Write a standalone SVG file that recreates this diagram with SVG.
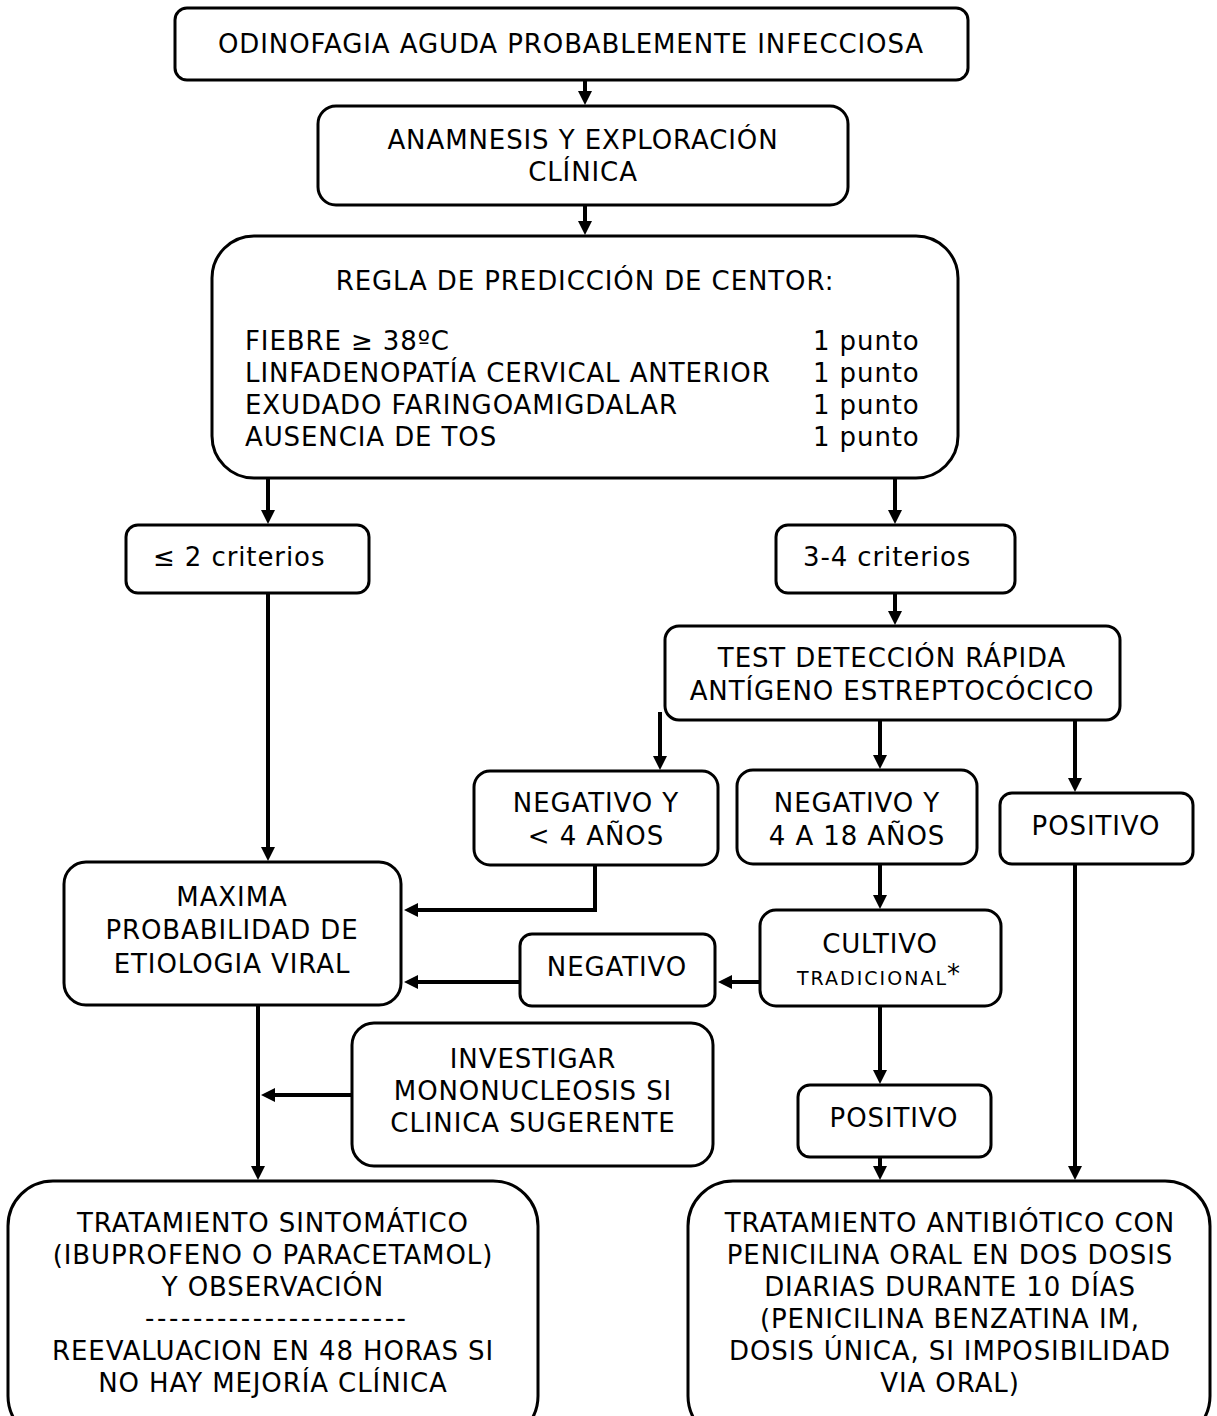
<svg xmlns="http://www.w3.org/2000/svg" width="1217" height="1416" viewBox="0 0 1217 1416">
<defs>
<style>
.box{fill:#fff;stroke:#000;stroke-width:3}
.t{font-family:"DejaVu Sans","Verdana",sans-serif;font-size:26px;letter-spacing:0.9px;fill:#000}
.c{text-anchor:middle}
.con{fill:none;stroke:#000;stroke-width:4}
</style>
<marker id="ah" markerUnits="userSpaceOnUse" markerWidth="16" markerHeight="16" refX="1" refY="7" orient="auto">
<path d="M0,0 L14,7 L0,14 z" fill="#000"/>
</marker>
</defs>
<rect width="1217" height="1416" fill="#fff"/>
<g id="connectors">
<path class="con" d="M585,80 V92" marker-end="url(#ah)"/>
<path class="con" d="M585,205 V222" marker-end="url(#ah)"/>
<path class="con" d="M268,478 V511" marker-end="url(#ah)"/>
<path class="con" d="M895,478 V511" marker-end="url(#ah)"/>
<path class="con" d="M895,593 V612" marker-end="url(#ah)"/>
<path class="con" d="M660,712 V757" marker-end="url(#ah)"/>
<path class="con" d="M880,720 V756" marker-end="url(#ah)"/>
<path class="con" d="M1075,720 V779" marker-end="url(#ah)"/>
<path class="con" d="M268,593 V848" marker-end="url(#ah)"/>
<path class="con" d="M595,865 V910 H417" marker-end="url(#ah)"/>
<path class="con" d="M880,864 V896" marker-end="url(#ah)"/>
<path class="con" d="M760,982 H731" marker-end="url(#ah)"/>
<path class="con" d="M520,982 H417" marker-end="url(#ah)"/>
<path class="con" d="M880,1006 V1071" marker-end="url(#ah)"/>
<path class="con" d="M880,1157 V1167" marker-end="url(#ah)"/>
<path class="con" d="M1075,864 V1167" marker-end="url(#ah)"/>
<path class="con" d="M258,1005 V1167" marker-end="url(#ah)"/>
<path class="con" d="M352,1095 H274" marker-end="url(#ah)"/>
</g>
<g id="n1">
<rect class="box" x="175" y="8" width="793" height="72" rx="12"/>
<text class="t c" x="571" y="53">ODINOFAGIA AGUDA PROBABLEMENTE INFECCIOSA</text>
</g>
<g id="n2">
<rect class="box" x="318" y="106" width="530" height="99" rx="18"/>
<text class="t c" x="583" y="149">ANAMNESIS Y EXPLORACIÓN</text>
<text class="t c" x="583" y="181">CLÍNICA</text>
</g>
<g id="n3">
<rect class="box" x="212" y="236" width="746" height="242" rx="42"/>
<text class="t c" x="585" y="290">REGLA DE PREDICCIÓN DE CENTOR:</text>
<text class="t" x="245" y="350">FIEBRE ≥ 38ºC</text>
<text class="t" x="245" y="382">LINFADENOPATÍA CERVICAL ANTERIOR</text>
<text class="t" x="245" y="414">EXUDADO FARINGOAMIGDALAR</text>
<text class="t" x="245" y="446">AUSENCIA DE TOS</text>
<text class="t" x="813" y="350">1 punto</text>
<text class="t" x="813" y="382">1 punto</text>
<text class="t" x="813" y="414">1 punto</text>
<text class="t" x="813" y="446">1 punto</text>
</g>
<g id="n4">
<rect class="box" x="126" y="525" width="243" height="68" rx="12"/>
<text class="t" x="153" y="566">≤ 2 criterios</text>
</g>
<g id="n5">
<rect class="box" x="776" y="525" width="239" height="68" rx="12"/>
<text class="t" x="803" y="566">3-4 criterios</text>
</g>
<g id="n6">
<rect class="box" x="665" y="626" width="455" height="94" rx="14"/>
<text class="t c" x="892" y="667">TEST DETECCIÓN RÁPIDA</text>
<text class="t c" x="892" y="700">ANTÍGENO ESTREPTOCÓCICO</text>
</g>
<g id="n7">
<rect class="box" x="474" y="771" width="244" height="94" rx="16"/>
<text class="t c" x="596" y="812">NEGATIVO Y</text>
<text class="t c" x="596" y="845">&lt; 4 AÑOS</text>
</g>
<g id="n8">
<rect class="box" x="737" y="770" width="240" height="94" rx="16"/>
<text class="t c" x="857" y="812">NEGATIVO Y</text>
<text class="t c" x="857" y="845">4 A 18 AÑOS</text>
</g>
<g id="n9">
<rect class="box" x="1000" y="793" width="193" height="71" rx="12"/>
<text class="t c" x="1096" y="835">POSITIVO</text>
</g>
<g id="n10">
<rect class="box" x="64" y="862" width="337" height="143" rx="22"/>
<text class="t c" x="232" y="906">MAXIMA</text>
<text class="t c" x="232" y="939">PROBABILIDAD DE</text>
<text class="t c" x="232" y="973">ETIOLOGIA VIRAL</text>
</g>
<g id="n11">
<rect class="box" x="760" y="910" width="241" height="96" rx="16"/>
<text class="t c" x="880" y="953">CULTIVO</text>
<text class="t" x="797" y="985" style="font-size:19px;letter-spacing:0" textLength="149">TRADICIONAL</text>
<text class="t" x="947" y="983" style="font-size:26px;letter-spacing:0">*</text>
</g>
<g id="n12">
<rect class="box" x="520" y="934" width="195" height="72" rx="12"/>
<text class="t c" x="617" y="976">NEGATIVO</text>
</g>
<g id="n13">
<rect class="box" x="352" y="1023" width="361" height="143" rx="22"/>
<text class="t c" x="533" y="1068">INVESTIGAR</text>
<text class="t c" x="533" y="1100">MONONUCLEOSIS SI</text>
<text class="t c" x="533" y="1132">CLINICA SUGERENTE</text>
</g>
<g id="n14">
<rect class="box" x="798" y="1085" width="193" height="72" rx="12"/>
<text class="t c" x="894" y="1127">POSITIVO</text>
</g>
<g id="n15">
<rect class="box" x="8" y="1181" width="530" height="260" rx="45"/>
<text class="t c" x="273" y="1232">TRATAMIENTO SINTOMÁTICO</text>
<text class="t c" x="273" y="1264">(IBUPROFENO O PARACETAMOL)</text>
<text class="t c" x="273" y="1296">Y OBSERVACIÓN</text>
<text class="t" x="145" y="1327" style="letter-spacing:0" textLength="261">----------------------</text>
<text class="t c" x="273" y="1360">REEVALUACION EN 48 HORAS SI</text>
<text class="t c" x="273" y="1392">NO HAY MEJORÍA CLÍNICA</text>
</g>
<g id="n16">
<rect class="box" x="688" y="1181" width="522" height="260" rx="45"/>
<text class="t c" x="950" y="1232">TRATAMIENTO ANTIBIÓTICO CON</text>
<text class="t c" x="950" y="1264">PENICILINA ORAL EN DOS DOSIS</text>
<text class="t c" x="950" y="1296">DIARIAS DURANTE 10 DÍAS</text>
<text class="t c" x="950" y="1328">(PENICILINA BENZATINA IM,</text>
<text class="t c" x="950" y="1360">DOSIS ÚNICA, SI IMPOSIBILIDAD</text>
<text class="t c" x="950" y="1392">VIA ORAL)</text>
</g>
</svg>
